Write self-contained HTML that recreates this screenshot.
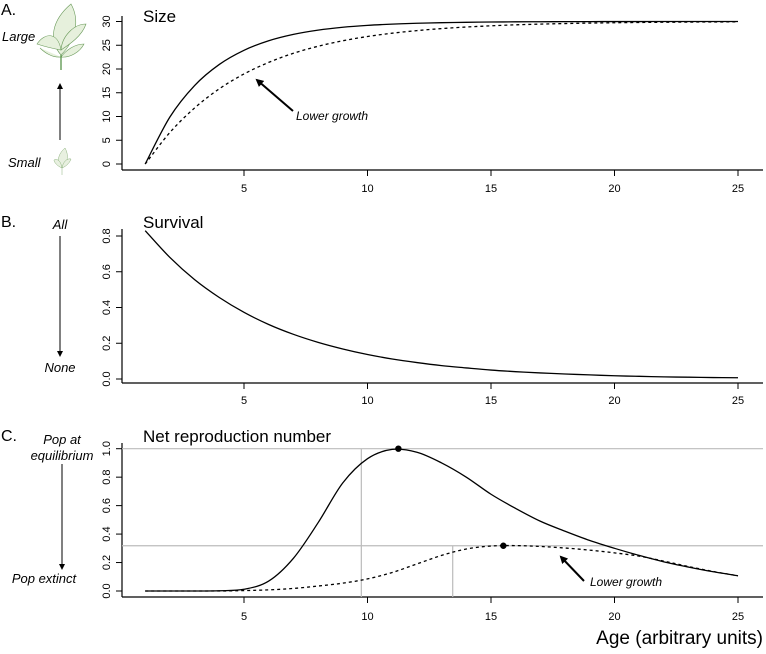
<!DOCTYPE html>
<html><head><meta charset="utf-8">
<style>
html,body{margin:0;padding:0;background:#fff;}
svg{display:block;font-family:"Liberation Sans",Arial,sans-serif;}
</style></head>
<body>
<svg id="chart" width="766" height="654" viewBox="0 0 766 654" xmlns="http://www.w3.org/2000/svg">
<defs>
<marker id="ah" markerWidth="8" markerHeight="8" refX="6" refY="4" orient="auto" markerUnits="userSpaceOnUse"><path d="M0,0 L8,4 L0,8 Z" fill="#000"/></marker>
<marker id="ahs" markerWidth="6" markerHeight="6" refX="5" refY="3" orient="auto" markerUnits="userSpaceOnUse"><path d="M0,0 L6,3 L0,6 Z" fill="#000"/></marker>
</defs>
<g id="static">
  <text x="1" y="15" font-size="16">A.</text>
  <text x="1" y="227" font-size="16">B.</text>
  <text x="1" y="441" font-size="16">C.</text>

  <text x="2" y="41" font-size="13" font-style="italic">Large</text>
  <g stroke="#6a9a5a" stroke-width="0.6" fill="#e6f0dc">
    <path d="M61,55 C48,40 52,20 71,4 C80,20 76,40 61,55Z"/>
    <path d="M61,50 C50,48 40,45 37,44 C45,32 58,32 61,50Z"/>
    <path d="M61,50 C70,44 82,36 86,24 C74,24 62,36 61,50Z"/>
    <path d="M61,57 C52,58 44,52 40,48"/>
    <path d="M61,57 C70,58 80,52 84,44 C75,44 66,50 61,57Z"/>
    <line x1="61" y1="55" x2="61" y2="70" stroke="#4a8a3a" stroke-width="1.2"/>
  </g>
  <line x1="60" y1="140" x2="60" y2="84" stroke="#000" stroke-width="1" marker-end="url(#ahs)"/>
  <text x="8" y="167" font-size="13" font-style="italic">Small</text>
  <g stroke="#8ab07a" stroke-width="0.5" fill="#e8f0e0">
    <path d="M62,168 C56,162 58,154 65,148 C69,155 68,163 62,168Z"/>
    <path d="M62,168 C57,166 54,162 54,160 C58,158 61,162 62,168Z"/>
    <path d="M62,168 C67,166 70,162 71,159 C67,158 63,162 62,168Z"/>
    <line x1="62" y1="168" x2="62" y2="175"/>
  </g>

  <text x="60" y="229" font-size="13" font-style="italic" text-anchor="middle">All</text>
  <line x1="60" y1="236" x2="60" y2="356" stroke="#000" stroke-width="1" marker-end="url(#ahs)"/>
  <text x="60" y="372" font-size="13" font-style="italic" text-anchor="middle">None</text>

  <text x="62" y="444" font-size="13" font-style="italic" text-anchor="middle">Pop at</text>
  <text x="62" y="460" font-size="13" font-style="italic" text-anchor="middle">equilibrium</text>
  <line x1="62" y1="464" x2="62" y2="569" stroke="#000" stroke-width="1" marker-end="url(#ahs)"/>
  <text x="44" y="583" font-size="13" font-style="italic" text-anchor="middle">Pop extinct</text>

  <text x="143" y="22" font-size="17">Size</text>
  <text x="143" y="228" font-size="17">Survival</text>
  <text x="143" y="442" font-size="17">Net reproduction number</text>
  <text x="763" y="644" font-size="19" text-anchor="end">Age (arbitrary units)</text>
</g>
<g id="plots"></g>
</svg>
<script>
// ---- data ----
const ages = [1,2,3,4,5,6,7,8,9,10,11,12,13,14,15,16,17,18,19,20,21,22,23,24,25];
const sizeNormal = [0,9.89,16.52,20.96,23.94,25.94,27.28,28.18,28.78,29.18,29.45,29.63,29.75,29.83,29.89,29.93,29.95,29.97,29.98,29.99,29.99,30,30,30,30];
const sizeLow = [0,6.64,11.80,15.83,18.96,21.39,23.31,24.79,25.94,26.84,27.54,28.08,28.51,28.84,29.09,29.30,29.45,29.57,29.67,29.74,29.80,29.84,29.88,29.90,29.93];
const survival = [0.83,0.68,0.556,0.456,0.373,0.305,0.25,0.205,0.168,0.137,0.112,0.092,0.075,0.062,0.05,0.041,0.034,0.028,0.023,0.018,0.015,0.012,0.01,0.008,0.007];
const reproNormal = [0,0,0,0.002,0.012,0.07,0.23,0.48,0.76,0.93,0.995,0.975,0.9,0.8,0.68,0.58,0.49,0.42,0.355,0.3,0.25,0.205,0.168,0.135,0.107];
const reproLow = [0,0,0,0,0.003,0.008,0.018,0.035,0.055,0.085,0.13,0.19,0.25,0.295,0.316,0.319,0.313,0.302,0.287,0.268,0.245,0.21,0.172,0.137,0.107];
const xTicks = [5,10,15,20,25];
const sizeTicks = [0,5,10,15,20,25,30];
const survTicks = [0,0.2,0.4,0.6,0.8];
const reproTicks = [0,0.2,0.4,0.6,0.8,1.0];
const peakNormal = [11.25, 1.0];
const peakLow = [15.5, 0.318];
const cutNormal = [9.75, 1.0];
const cutLow = [13.45, 0.318];

const NS = 'http://www.w3.org/2000/svg';
const root = document.getElementById('plots');
const xs = t => 244 + (t - 5) * 24.7;
function mk(tag, attrs, parent){
  const e = document.createElementNS(NS, tag);
  for (const k in attrs) e.setAttribute(k, attrs[k]);
  (parent||root).appendChild(e);
  return e;
}
function pathFrom(xv, yv, fx, fy){
  const p = xv.map((v,i)=>[fx(v), fy(yv[i])]);
  let d = 'M' + p[0][0].toFixed(2) + ',' + p[0][1].toFixed(2);
  for (let i=0;i<p.length-1;i++){
    const p0=p[Math.max(i-1,0)], p1=p[i], p2=p[i+1], p3=p[Math.min(i+2,p.length-1)];
    const c1=[p1[0]+(p2[0]-p0[0])/6, p1[1]+(p2[1]-p0[1])/6];
    const c2=[p2[0]-(p3[0]-p1[0])/6, p2[1]-(p3[1]-p1[1])/6];
    d += ' C'+c1[0].toFixed(2)+','+c1[1].toFixed(2)+' '+c2[0].toFixed(2)+','+c2[1].toFixed(2)+' '+p2[0].toFixed(2)+','+p2[1].toFixed(2);
  }
  return d;
}
function axes(fy, yTicks, yTop, axisY, labelY, fmt, prefix){
  const g = mk('g', {});
  
  
  const xl = mk('line', {x1:122, y1:axisY, x2:763, y2:axisY, stroke:'#000', 'stroke-width':1.2}, g);
  
  
  const yl = mk('line', {x1:122, y1:yTop, x2:122, y2:axisY, stroke:'#000', 'stroke-width':1.2}, g);
  
  
  xTicks.forEach(t=>{
    mk('line', {x1:xs(t), y1:axisY, x2:xs(t), y2:axisY+6, stroke:'#000'}, g);
    const tx = mk('text', {x:xs(t), y:labelY, 'font-size':11, 'text-anchor':'middle'}, g);
    
    
    tx.textContent = t;
  });
  yTicks.forEach(v=>{
    const y = fy(v);
    mk('line', {x1:116, y1:y, x2:122, y2:y, stroke:'#000'}, g);
    const tx = mk('text', {x:0, y:0, 'font-size':11, 'text-anchor':'middle', transform:'translate(110,'+y+') rotate(-90)'}, g);
    
    
    tx.textContent = fmt(v);
  });
}
function line(yv, fy, dashed, name){
  const p = mk('path', {d:pathFrom(ages, yv, xs, fy), fill:'none', stroke:'#000', 'stroke-width':1.3, 'stroke-dasharray': dashed ? '3,3' : 'none'});
  
  
}

// Panel A
const yA = v => 164 - v * 4.75;
axes(yA, sizeTicks, 16, 170, 192, v=>String(v), 'size');
line(sizeNormal, yA, false, 'size-line-normal');
line(sizeLow, yA, true, 'size-line-lower-growth');
const a1 = mk('line', {x1:293, y1:111, x2:257, y2:80, stroke:'#000', 'stroke-width':2, 'marker-end':'url(#ah)'});


const t1 = mk('text', {x:296, y:120, 'font-size':12, 'font-style':'italic'});


t1.textContent = 'Lower growth';

// Panel B
const yB = v => 379 - v * 178.75;
axes(yB, survTicks, 229, 383, 404, v=>v.toFixed(1), 'survival');
line(survival, yB, false, 'survival-line');

// Panel C
const yC = v => 591 - v * 142.3;
axes(yC, reproTicks, 443, 597, 620, v=>v.toFixed(1), 'repro');
[peakNormal, peakLow].forEach((pk,i)=>{
  const h = mk('line', {x1:122, y1:yC(pk[1]), x2:763, y2:yC(pk[1]), stroke:'#bbb', 'stroke-width':1.2});
  
  
});
[cutNormal, cutLow].forEach((c,i)=>{
  const v = mk('line', {x1:xs(c[0]), y1:yC(c[1]), x2:xs(c[0]), y2:597, stroke:'#bbb', 'stroke-width':1.2});
  
  
});
line(reproNormal, yC, false, 'repro-line-normal');
line(reproLow, yC, true, 'repro-line-lower-growth');
[peakNormal, peakLow].forEach((pk,i)=>{
  const c = mk('circle', {cx:xs(pk[0]), cy:yC(pk[1]), r:3.2, fill:'#000'});
  
  
});
const a2 = mk('line', {x1:584, y1:581, x2:561, y2:557, stroke:'#000', 'stroke-width':2, 'marker-end':'url(#ah)'});


const t2 = mk('text', {x:590, y:586, 'font-size':12, 'font-style':'italic'});


t2.textContent = 'Lower growth';
</script>
</body></html>
